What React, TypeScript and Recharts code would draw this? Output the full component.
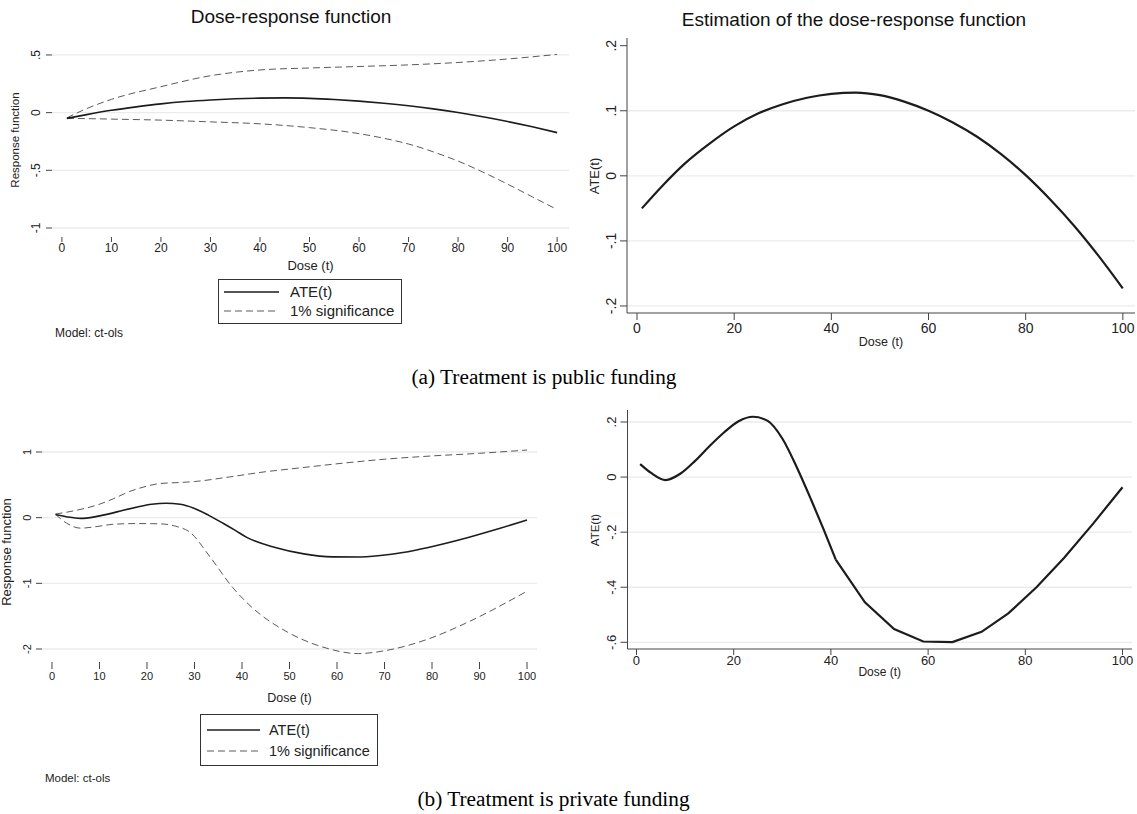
import React from 'react'
import { LineChart, Line, XAxis, YAxis, CartesianGrid } from 'recharts'

const SANS = '"Liberation Sans", Arial, sans-serif'
const SERIF = '"Liberation Serif", "Times New Roman", serif'

// (a) treatment is public funding
const doseA = [1, 5, 10, 15, 20, 25, 30, 35, 40, 45, 50, 55, 60, 65, 70, 75, 80, 85, 90, 95, 100]
const ateA = [-0.05, -0.017, 0.02, 0.05, 0.076, 0.096, 0.11, 0.12, 0.126, 0.128, 0.124, 0.114, 0.1, 0.082, 0.06, 0.033, 0.001, -0.036, -0.077, -0.123, -0.173]
const upperDoseA = [1, 5, 10, 20, 30, 40, 50, 60, 70, 80, 90, 100]
const upperA = [-0.045, 0.035, 0.115, 0.225, 0.32, 0.37, 0.387, 0.4, 0.414, 0.435, 0.465, 0.505]
const lowerDoseA = [1, 5, 10, 20, 30, 40, 50, 60, 65, 70, 75, 80, 85, 90, 95, 100]
const lowerA = [-0.05, -0.052, -0.056, -0.065, -0.08, -0.097, -0.13, -0.182, -0.222, -0.272, -0.34, -0.42, -0.515, -0.62, -0.73, -0.84]

// (b) treatment is private funding
const doseB = [0.75, 3, 6, 9, 12, 15, 18, 21, 24, 27, 30, 33, 36, 38.5, 41, 47, 53, 59, 65, 71, 76.5, 82.3, 88, 94, 100]
const ateB = [0.047, 0.015, -0.011, 0.012, 0.058, 0.112, 0.162, 0.203, 0.219, 0.204, 0.14, 0.035, -0.085, -0.19, -0.3, -0.455, -0.552, -0.597, -0.599, -0.562, -0.495, -0.4, -0.293, -0.168, -0.037]
const upperDoseB = [0.75, 5, 9.4, 13, 16.4, 20, 22.7, 26.9, 30, 37.4, 45, 50, 60, 70, 80, 90, 100]
const upperB = [0.055, 0.11, 0.19, 0.29, 0.4, 0.48, 0.52, 0.535, 0.55, 0.62, 0.7, 0.74, 0.82, 0.89, 0.94, 0.98, 1.03]
const lowerDoseB = [0.75, 3, 6, 9, 13, 18, 23, 26, 29, 33.3, 38, 42, 49.5, 57, 64.5, 70.5, 79.5, 87, 100]
const lowerB = [0.05, -0.08, -0.16, -0.14, -0.1, -0.09, -0.095, -0.13, -0.22, -0.6, -1.06, -1.36, -1.74, -1.97, -2.07, -2.02, -1.84, -1.61, -1.12]

const doseTicksFine = [0, 10, 20, 30, 40, 50, 60, 70, 80, 90, 100]
const doseTicksWide = [0, 20, 40, 60, 80, 100]
const yTicksAL = [-1, -0.5, 0, 0.5]
const yTicksAR = [-0.2, -0.1, 0, 0.1, 0.2]
const yTicksBL = [-2, -1, 0, 1]
const yTicksBR = [-0.6, -0.4, -0.2, 0, 0.2]

const zip = (xs: number[], ys: number[]) => xs.map((t, i) => ({ t, v: ys[i] }))

// right-hand (b) curve: smooth up to t=41, straight pieces after that
const ateBPoints = zip(doseB, ateB)
const kinkAt = doseB.indexOf(41)

// stata style: .5 instead of 0.5
function stataNum(v: number) {
  if (v === 0) return '0'
  return String(Math.round(v * 100) / 100).replace('0.', '.')
}

function rotTick(fontSize: number, shift: number) {
  return (props: any) => {
    const { x, y, payload } = props
    const bx = x + shift
    return (
      <text x={bx} y={y} transform={`rotate(-90 ${bx} ${y})`} textAnchor="middle" fontSize={fontSize} fontFamily={SANS} fill="#222">
        {stataNum(payload.value)}
      </text>
    )
  }
}

type Series = { data: { t: number; v: number }[]; dashed?: boolean; type?: 'monotone' | 'linear'; width?: number }

type PanelProps = {
  left: number
  top: number
  width: number
  height: number
  margin: { top: number; right: number; left: number; bottom: number }
  xDomain: [number, number]
  xTicks: number[]
  yDomain: [number, number]
  yTicks: number[]
  gridValues?: number[]
  yWidth: number
  xHeight: number
  tickFont: number
  yShift: number
  yTickSize: number
  xTickSize: number
  xTickMargin: number
  xLabelFont: number
  axisLines: boolean
  series: Series[]
}

function Panel(p: PanelProps) {
  const axisLine = p.axisLines ? { stroke: '#444', strokeWidth: 1 } : false
  return (
    <div style={{ position: 'absolute', left: p.left, top: p.top }}>
      <LineChart width={p.width} height={p.height} margin={p.margin}>
        <CartesianGrid vertical={false} stroke="#ebebeb" strokeWidth={1.3} horizontalValues={p.gridValues ?? p.yTicks} />
        <XAxis
          dataKey="t"
          type="number"
          domain={p.xDomain}
          ticks={p.xTicks}
          allowDataOverflow
          height={p.xHeight}
          axisLine={axisLine}
          tickLine={{ stroke: '#444' }}
          tickSize={p.xTickSize}
          tickMargin={p.xTickMargin}
          tick={{ fontSize: p.tickFont, fontFamily: SANS, fill: '#222' }}
          label={{ value: 'Dose (t)', position: 'insideBottom', offset: 0, fontSize: p.xLabelFont, fontFamily: SANS, fill: '#222' }}
        />
        <YAxis
          type="number"
          domain={p.yDomain}
          ticks={p.yTicks}
          allowDataOverflow
          width={p.yWidth}
          axisLine={axisLine}
          tickLine={{ stroke: '#444' }}
          tickSize={p.yTickSize}
          tickMargin={2}
          tick={rotTick(p.tickFont, p.yShift)}
        />
        {p.series.map((s, i) => (
          <Line
            key={i}
            data={s.data}
            dataKey="v"
            type={s.type ?? 'monotone'}
            stroke={s.dashed ? '#5a5a5a' : '#1c1c1c'}
            strokeWidth={s.dashed ? 1 : s.width ?? 1.6}
            strokeDasharray={s.dashed ? '7 4' : undefined}
            dot={false}
            activeDot={false}
            isAnimationActive={false}
          />
        ))}
      </LineChart>
    </div>
  )
}

function LegendBox({ x, y, w, h, rows, sampleX, textX, font }: { x: number; y: number; w: number; h: number; rows: number[]; sampleX: [number, number]; textX: number; font: number }) {
  const labels = ['ATE(t)', '1% significance']
  return (
    <g>
      <rect x={x + 0.5} y={y + 0.5} width={w} height={h} fill="#fff" stroke="#333" strokeWidth={1} />
      {labels.map((lab, i) => (
        <g key={lab}>
          <line
            x1={sampleX[0]}
            x2={sampleX[1]}
            y1={rows[i]}
            y2={rows[i]}
            stroke={i === 0 ? '#1c1c1c' : '#5a5a5a'}
            strokeWidth={i === 0 ? 1.6 : 1}
            strokeDasharray={i === 0 ? undefined : '7 4'}
          />
          <text x={textX} y={rows[i] + font * 0.36} fontSize={font} fontFamily={SANS} fill="#222">
            {lab}
          </text>
        </g>
      ))}
    </g>
  )
}

function VTitle({ x, y, font, children }: { x: number; y: number; font: number; children: string }) {
  return (
    <text x={x} y={y} transform={`rotate(-90 ${x} ${y})`} textAnchor="middle" fontSize={font} fontFamily={SANS} fill="#222">
      {children}
    </text>
  )
}

export default function App() {
  return (
    <div style={{ position: 'absolute', left: 0, top: 0, width: 1137, height: 814, background: '#fff', overflow: 'hidden' }}>
      <Panel
        left={0}
        top={0}
        width={570}
        height={276}
        margin={{ top: 44, right: 1, left: 8, bottom: 6 }}
        xDomain={[-2, 102.4]}
        xTicks={doseTicksFine}
        yDomain={[-1.078, 0.595]}
        yTicks={yTicksAL}
        yWidth={44}
        xHeight={33}
        tickFont={12}
        yShift={-4.3}
        yTickSize={6}
        xTickSize={5}
        xTickMargin={1}
        xLabelFont={13}
        axisLines={false}
        series={[
          { data: zip(upperDoseA, upperA), dashed: true },
          { data: zip(lowerDoseA, lowerA), dashed: true },
          { data: zip(doseA, ateA) },
        ]}
      />
      <Panel
        left={570}
        top={0}
        width={567}
        height={352}
        margin={{ top: 38, right: 2, left: 3, bottom: 6 }}
        xDomain={[-2.06, 102.5]}
        xTicks={doseTicksWide}
        yDomain={[-0.2108, 0.2118]}
        yTicks={yTicksAR}
        gridValues={[-0.2, -0.1, 0, 0.1]}
        yWidth={54}
        xHeight={33}
        tickFont={14}
        yShift={-2}
        yTickSize={7}
        xTickSize={7}
        xTickMargin={3}
        xLabelFont={12.5}
        axisLines={true}
        series={[{ data: zip(doseA, ateA), width: 2.2 }]}
      />
      <Panel
        left={0}
        top={400}
        width={545}
        height={308}
        margin={{ top: 38, right: 8, left: 8, bottom: 6 }}
        xDomain={[-2.1, 102.1]}
        xTicks={doseTicksFine}
        yDomain={[-2.198, 1.213]}
        yTicks={yTicksBL}
        yWidth={34}
        xHeight={40}
        tickFont={11}
        yShift={-3}
        yTickSize={6}
        xTickSize={7}
        xTickMargin={3}
        xLabelFont={12.5}
        axisLines={false}
        series={[
          { data: zip(upperDoseB, upperB), dashed: true },
          { data: zip(lowerDoseB, lowerB), dashed: true },
          { data: ateBPoints },
        ]}
      />
      <Panel
        left={570}
        top={400}
        width={567}
        height={282}
        margin={{ top: 10, right: 5, left: 3, bottom: 6 }}
        xDomain={[-1.85, 101.95]}
        xTicks={doseTicksWide}
        yDomain={[-0.6243, 0.2436]}
        yTicks={yTicksBR}
        yWidth={54.5}
        xHeight={27}
        tickFont={13}
        yShift={-2}
        yTickSize={7}
        xTickSize={6}
        xTickMargin={1}
        xLabelFont={12}
        axisLines={true}
        series={[
          { data: ateBPoints.slice(0, kinkAt + 1), width: 2.2 },
          { data: ateBPoints.slice(kinkAt), type: 'linear', width: 2.2 },
        ]}
      />
      <svg width={1137} height={814} style={{ position: 'absolute', left: 0, top: 0, pointerEvents: 'none' }}>
        <text x={291} y={23} textAnchor="middle" fontSize={19} fontFamily={SANS} fill="#111">
          Dose-response function
        </text>
        <text x={854} y={26} textAnchor="middle" fontSize={19} fontFamily={SANS} fill="#111">
          Estimation of the dose-response function
        </text>
        <VTitle x={19} y={140} font={11.5}>Response function</VTitle>
        <VTitle x={598.5} y={176} font={13}>ATE(t)</VTitle>
        <VTitle x={11} y={552} font={13}>Response function</VTitle>
        <VTitle x={598.5} y={530} font={11.5}>ATE(t)</VTitle>
        <LegendBox x={218} y={279} w={183} h={44} rows={[292, 311]} sampleX={[224, 279]} textX={290} font={15} />
        <LegendBox x={200} y={714} w={177} h={51} rows={[730, 751]} sampleX={[207, 260]} textX={269} font={14.5} />
        <text x={55} y={337} fontSize={12} fontFamily={SANS} fill="#222">
          Model: ct-ols
        </text>
        <text x={45} y={782} fontSize={11.5} fontFamily={SANS} fill="#222">
          Model: ct-ols
        </text>
        <text x={544} y={384} textAnchor="middle" fontSize={21.3} fontFamily={SERIF} fill="#000">
          (a) Treatment is public funding
        </text>
        <text x={553.5} y={806} textAnchor="middle" fontSize={21.3} fontFamily={SERIF} fill="#000">
          (b) Treatment is private funding
        </text>
      </svg>
    </div>
  )
}
